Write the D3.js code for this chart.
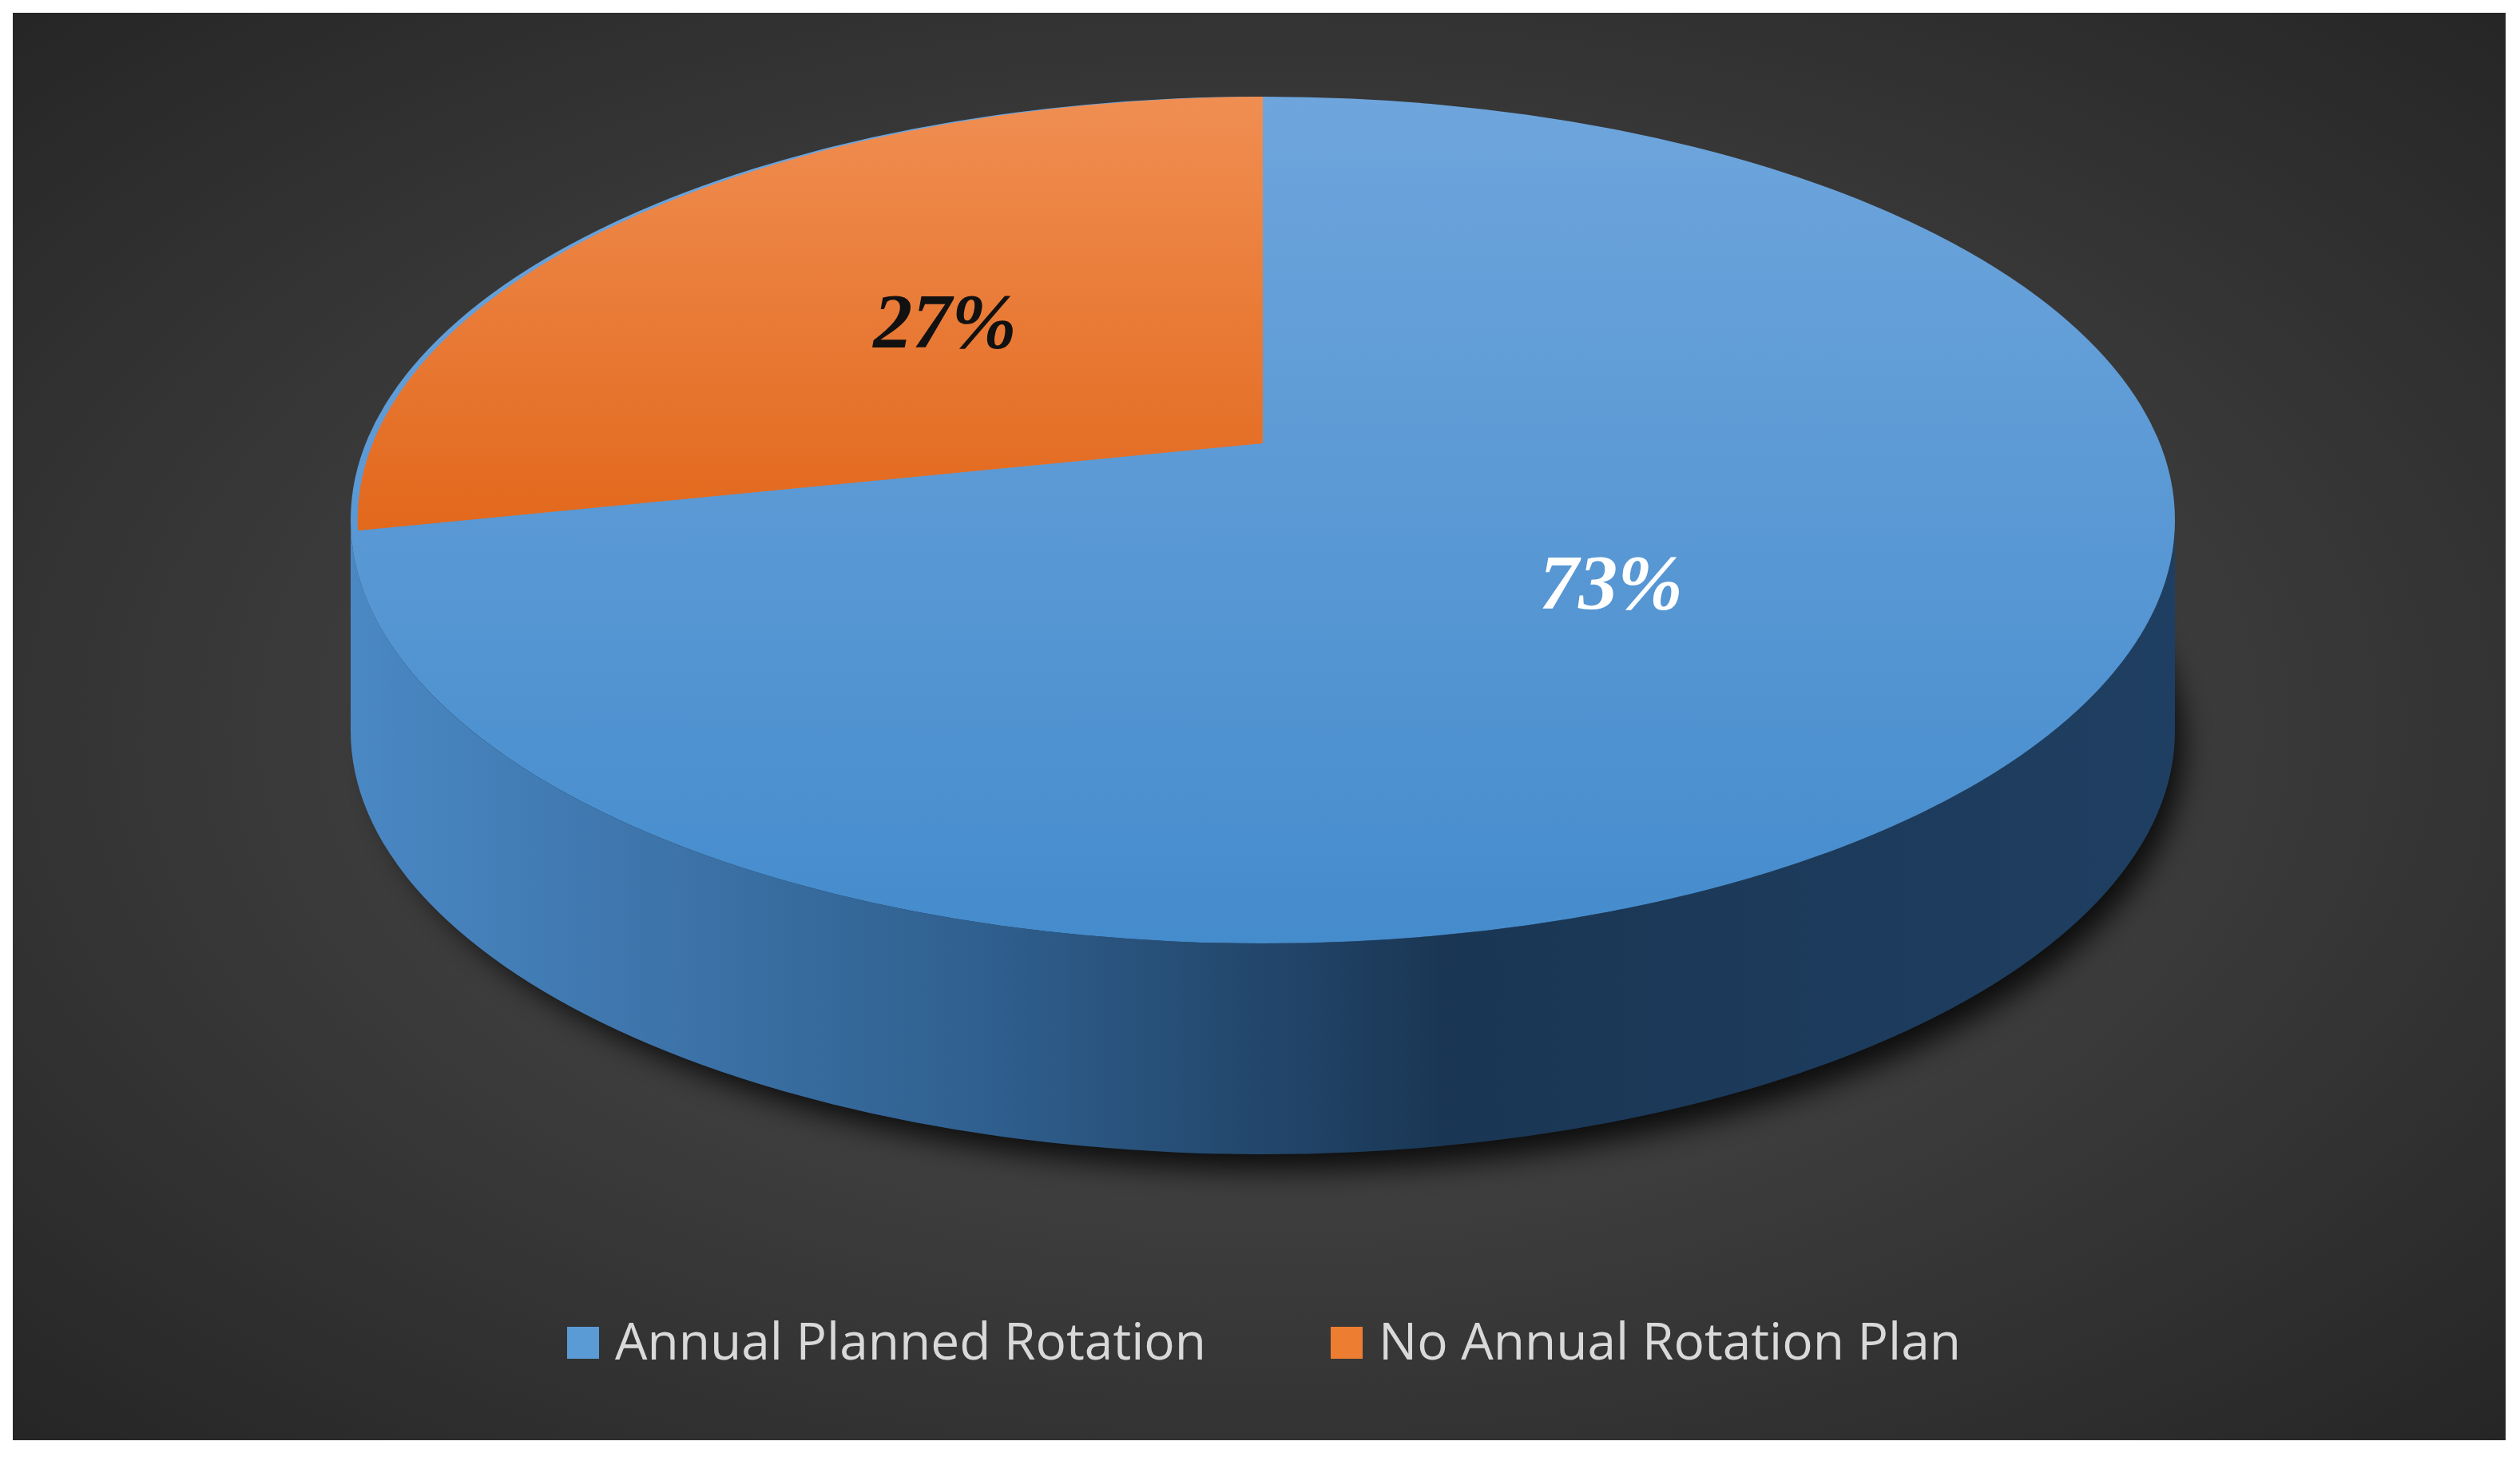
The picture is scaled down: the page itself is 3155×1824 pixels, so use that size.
<!DOCTYPE html><html><head><meta charset="utf-8">
<script src="https://cdn.jsdelivr.net/npm/d3@7"></script>
<style>body{margin:0;background:#fff}</style></head><body>
<svg id="c" width="3155" height="1824"></svg>
<script>
const categories=["Annual Planned Rotation","No Annual Rotation Plan"];
const values=[73,27];
const labels=["73%","27%"];
const colors=["#5b9bd5","#ed7d31"];

const svg=d3.select("#c");
const defs=svg.append("defs");
const bg=defs.append("radialGradient").attr("id","bg").attr("cx","50%").attr("cy","50%").attr("r","70%");
bg.append("stop").attr("offset","0").attr("stop-color","#535353");
bg.append("stop").attr("offset","1").attr("stop-color","#262626");
svg.append("rect").attr("x",16).attr("y",16).attr("width",3121).attr("height",1787).attr("fill","url(#bg)");

const cx=1581, cy=651, rx=1142, ry=530, depth=264;
const side=defs.append("linearGradient").attr("id","side");
[["0","#4a88c4"],["0.35","#2f5f8e"],["0.6","#1a3654"],["1","#1f3f62"]].forEach(s=>side.append("stop").attr("offset",s[0]).attr("stop-color",s[1]));
const topB=defs.append("linearGradient").attr("id","topB").attr("x1",0).attr("y1",0).attr("x2",0).attr("y2",1);
topB.append("stop").attr("offset","0").attr("stop-color","#6ea5dc");
topB.append("stop").attr("offset","1").attr("stop-color","#458ccd");
const topO=defs.append("linearGradient").attr("id","topO").attr("x1",0).attr("y1",0).attr("x2",0).attr("y2",1);
topO.append("stop").attr("offset","0").attr("stop-color","#f08e52");
topO.append("stop").attr("offset","1").attr("stop-color","#e2681c");
defs.append("filter").attr("id","blur").attr("x","-20%").attr("y","-20%").attr("width","140%").attr("height","140%")
  .append("feGaussianBlur").attr("stdDeviation",18);

svg.append("ellipse").attr("cx",cx+20).attr("cy",cy+depth+20).attr("rx",rx-10).attr("ry",ry).attr("fill","#000").attr("opacity",0.8).attr("filter","url(#blur)");
const sidePath=`M${cx-rx},${cy} A${rx},${ry} 0 0 0 ${cx+rx},${cy} L${cx+rx},${cy+depth} A${rx},${ry} 0 0 1 ${cx-rx},${cy+depth} Z`;
svg.append("path").attr("d",sidePath).attr("fill","url(#side)");

const pie=d3.pie().sort(null).startAngle(0).endAngle(2*Math.PI)(values);
const apexY=cy-96;
// slight perspective: lift points on the left/right edges toward the apex
function pt(a){return [cx+rx*Math.sin(a), cy-ry*Math.cos(a)-90*Math.sin(a)*Math.sin(a)*(Math.cos(a)<0?0.6:1)];}
svg.append("ellipse").attr("cx",cx).attr("cy",cy).attr("rx",rx).attr("ry",ry).attr("fill","url(#topB)");
const o=pie[1];
const p0=pt(o.startAngle), p1=pt(o.endAngle);
svg.append("path").attr("d",`M${cx},${apexY} L${p0[0]},${cy+(p0[1]-cy)} A${rx},${ry} 0 0 1 ${p1[0]},${p1[1]} Z`).attr("fill","url(#topO)");

svg.append("text").attr("x",1183).attr("y",435).attr("text-anchor","middle").attr("font-family","Liberation Serif").attr("font-weight","bold").attr("font-style","italic").attr("font-size",98).attr("fill","#111").text(labels[1]);
svg.append("text").attr("x",2017).attr("y",762).attr("text-anchor","middle").attr("font-family","Liberation Serif").attr("font-weight","bold").attr("font-style","italic").attr("font-size",98).attr("fill","#fff").text(labels[0]);

const lx=[710,1666];
categories.forEach((c,i)=>{
  svg.append("rect").attr("x",lx[i]).attr("y",1661).attr("width",40).attr("height",40).attr("fill",colors[i]);
  svg.append("text").attr("x",lx[i]+60).attr("y",1702).attr("font-family","Open Sans").attr("font-size",64).attr("fill","#d9d9d9").text(c);
});
</script></body></html>
